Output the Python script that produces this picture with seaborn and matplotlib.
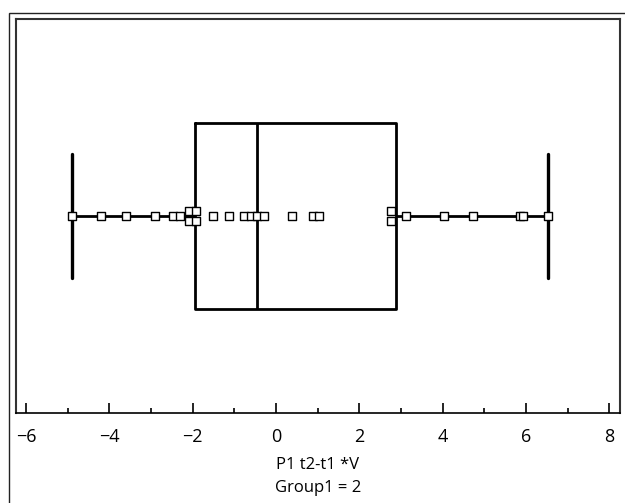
import numpy as np
import pandas as pd
import matplotlib
matplotlib.use("Agg")
import matplotlib.pyplot as plt
from matplotlib.ticker import MultipleLocator
from matplotlib.patches import Rectangle
import seaborn as sns

# ---- data ----
values = [-4.90, -4.21, -3.61, -2.90, -2.47, -2.31, -2.08, -2.08, -1.91, -1.91,
          -1.51, -1.13, -0.77, -0.61, -0.45, -0.29, 0.38, 0.88, 1.04,
          2.76, 2.76, 3.13, 4.04, 4.74, 5.85, 5.93, 6.52]
# five-number summary shown by the box (min, Q1, median, Q3, max)
five_number_summary = [-4.90, -1.95, -0.45, 2.88, 6.52]
x_ticks = [-6, -4, -2, 0, 2, 4, 6, 8]
x_label = "P1 t2-t1 *V"
group_label = "Group1 = 2"

sns.set_theme(style="white")
plt.rcParams["font.family"] = ["Open Sans", "DejaVu Sans"]
plt.rcParams["text.color"] = "black"
plt.rcParams["axes.labelcolor"] = "black"
plt.rcParams["xtick.color"] = "black"

fig = plt.figure(figsize=(6.25, 5.03), dpi=100)
W, H = 625, 503
ax = fig.add_axes([16 / W, 1 - 413 / H, (620 - 16) / W, (413 - 19) / H])

# outer frame (clipped by the canvas on right / bottom)
fig.patches.append(Rectangle((9 / W, -0.2), 1.2, 1.2 - 13 / H, transform=fig.transFigure,
                             fill=False, edgecolor="#222222", linewidth=1.0))

box_df = pd.DataFrame({"v": five_number_summary, "g": ["g"] * len(five_number_summary)})
kw = dict(data=box_df, x="v", y="g", orient="h", whis=np.inf, width=0.47,
          fill=False, color="black", linewidth=2.0, showfliers=False, ax=ax,
          whiskerprops=dict(linewidth=2.0), capprops=dict(linewidth=2.4),
          medianprops=dict(linewidth=2.0))
try:
    sns.boxplot(capwidths=0.315, **kw)
except Exception:
    ax.cla()
    sns.boxplot(**kw)

# stack duplicate values vertically (above/below the line)
vals = np.array(values)
offsets = np.zeros(len(vals))
for v in np.unique(vals):
    idx = np.where(vals == v)[0]
    if len(idx) > 1:
        offsets[idx] = np.linspace(-0.0135, 0.0135, len(idx))
pts = pd.DataFrame({"v": vals, "y": offsets})
sns.scatterplot(data=pts, x="v", y="y", marker="s", s=30, facecolor="white",
                edgecolor="black", linewidth=1.0, ax=ax, zorder=5, legend=False)

ax.set_ylim(0.5, -0.5)
ax.set_xlim(-6.24, 8.26)
ax.set_yticks([])
ax.set_ylabel("")
ax.set_xticks(x_ticks)
ax.xaxis.set_minor_locator(MultipleLocator(1))
ax.tick_params(axis="x", which="major", direction="in", length=7.5, width=1.2,
               labelsize=13, pad=11, bottom=True, color="black", labelcolor="black")
ax.tick_params(axis="x", which="minor", direction="in", length=3.8, width=1.2,
               bottom=True, color="black")
ax.set_xlabel(x_label + "\n" + group_label, fontsize=12, labelpad=8,
              linespacing=1.55, color="black")
for side, sp in ax.spines.items():
    sp.set_color("#333333" if side != "bottom" else "black")
    sp.set_linewidth(1.5 if side != "bottom" else 1.2)

fig.savefig("out.png", dpi=100)
